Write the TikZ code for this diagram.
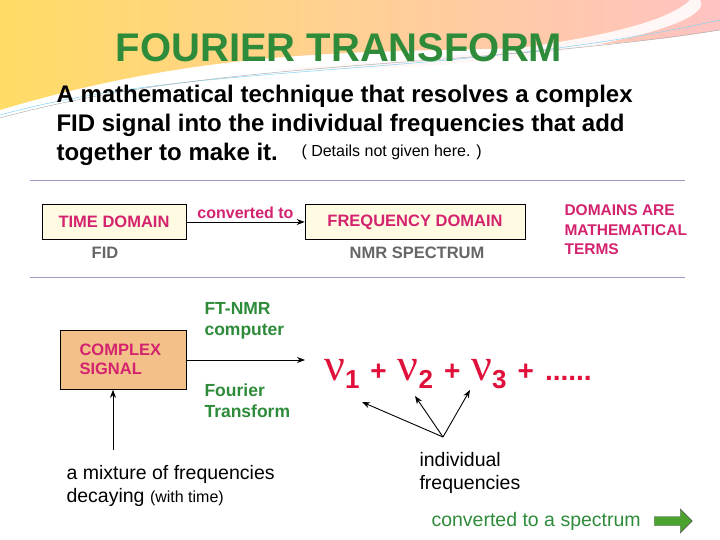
\documentclass[tikz,border=0pt]{standalone}
\usepackage{fontspec}
\setmainfont{Liberation Sans}
\newfontfamily\nufont{Liberation Serif}
\usetikzlibrary{arrows.meta,shapes.arrows}
\definecolor{tgreen}{HTML}{2E8B3A}
\definecolor{mag}{HTML}{D4236E}
\definecolor{boxy}{HTML}{FFFBE2}
\definecolor{boxo}{HTML}{F2C088}
\definecolor{nured}{HTML}{E0103A}
\newcommand{\nusub}[1]{{\nufont\mdseries\fontsize{46}{48}\selectfont ν}\raisebox{-8pt}{\fontsize{26}{28}\selectfont #1}}
\newcommand{\plsp}{\hspace{11pt}+\hspace{11pt}}
\begin{document}
\begin{tikzpicture}[x=1pt,y=-1pt,
  dbox/.style={draw=black,fill=boxy,minimum height=35pt,line width=0.6pt},
  magt/.style={text=mag,font=\bfseries\fontsize{16.5}{19}\selectfont},
  greent/.style={text=tgreen,font=\bfseries\fontsize{17.5}{21}\selectfont,align=left,anchor=west},
  blk/.style={font=\fontsize{19.5}{23}\selectfont,align=left,anchor=west},
  arr/.style={-{Stealth[length=8pt,width=6pt]},line width=0.9pt}]
\useasboundingbox (0,0) rectangle (720,540);
% background swoosh
\fill[white] (0,0) rectangle (720,540);
\shade[left color=orange!45!yellow!60,right color=pink!70!red!50] (0,0) -- (720,0) -- (720,30) .. controls (500,70) and (300,20) .. (0,110) -- cycle;
\fill[white!85!pink] (700,0) .. controls (720,30) and (500,75) .. (260,70) .. controls (450,60) and (650,40) .. (690,0) -- cycle;
\fill[white] (0,120) .. controls (250,40) and (450,90) .. (720,40) -- (720,540) -- (0,540) -- cycle;
\draw[cyan!50,line width=0.5pt] (0,115) .. controls (200,60) and (450,80) .. (720,20);
\draw[gray!60,line width=0.5pt] (0,118) .. controls (220,58) and (460,70) .. (720,30);
% title
\node[text=tgreen,font=\bfseries\fontsize{40}{42}\selectfont] (title) at (339,48) {FOURIER TRANSFORM};
\node[blk,font=\bfseries\fontsize{24}{29}\selectfont] (intro) at (53,125) {A mathematical technique that resolves a complex\\FID signal into the individual frequencies that add\\together to make it.};
\node[anchor=west,font=\fontsize{16}{18}\selectfont] (det) at (298,152) {( Details not given here. )};
\draw[gray!70!blue!60,line width=0.7pt] (30,180) -- (685,180);
\draw[gray!70!blue!60,line width=0.7pt] (30,277) -- (685,277);
% domains
\node[dbox,minimum width=144pt,magt] (td) at (114,222) {TIME DOMAIN};
\node[dbox,minimum width=220pt,magt] (fd) at (415,222) {FREQUENCY DOMAIN};
\draw[arr] (td.east) -- node[above=0pt,text=mag,font=\bfseries\fontsize{16}{18}\selectfont] (conv) {converted to} (fd.west);
\node[anchor=west,text=mag,align=left,font=\bfseries\fontsize{15.5}{19.5}\selectfont] (dat) at (561,230) {DOMAINS ARE\\MATHEMATICAL\\TERMS};
\node[text=gray!80!black,font=\bfseries\fontsize{16.5}{19}\selectfont] (fid) at (105,253) {FID};
\node[text=gray!80!black,font=\bfseries\fontsize{16.5}{19}\selectfont] (nmr) at (417,253) {NMR SPECTRUM};
% complex signal
\node[draw=black,fill=boxo,minimum width=126pt,minimum height=59pt,line width=0.6pt] (cs) at (123,360) {};
\node[magt,align=left,anchor=west] (cst) at (76,359) {COMPLEX\\SIGNAL};
\node[greent] (ftnmr) at (201,321) {FT-NMR\\computer};
\node[greent] (ft) at (201,401) {Fourier\\Transform};
\node[anchor=base west,text=nured,font=\bfseries\fontsize{28}{30}\selectfont,inner sep=0pt] (nu) at (324,380) {\nusub{1}\plsp\nusub{2}\plsp\nusub{3}\plsp......};
\coordinate (sigend) at (305,360);
\draw[arr] (cs.east |- sigend) -- (sigend);
\coordinate (fan) at (443,437);
\coordinate (n1) at (362,402);
\coordinate (n2) at (415,396);
\coordinate (n3) at (470,390);
\draw[arr] (fan) -- (n1);
\draw[arr] (fan) -- (n2);
\draw[arr] (fan) -- (n3);
\coordinate (mixtop) at (113,450);
\draw[arr] (mixtop) -- (mixtop |- cs.south);
\node[blk] (mix) at (63,486) {a mixture of frequencies\\decaying {\fontsize{16}{18}\selectfont (with time)}};
\node[blk] (ind) at (416,473) {individual\\frequencies};
\node[anchor=west,text=tgreen,font=\fontsize{19.5}{22}\selectfont] (cts) at (428,521) {converted to a spectrum};
\node[single arrow,draw=black!70,fill=tgreen!80!lime,minimum height=38pt,minimum width=24pt,single arrow head extend=2pt,inner sep=1pt] (garr) at (671,521) {};
\end{tikzpicture}
\end{document}
